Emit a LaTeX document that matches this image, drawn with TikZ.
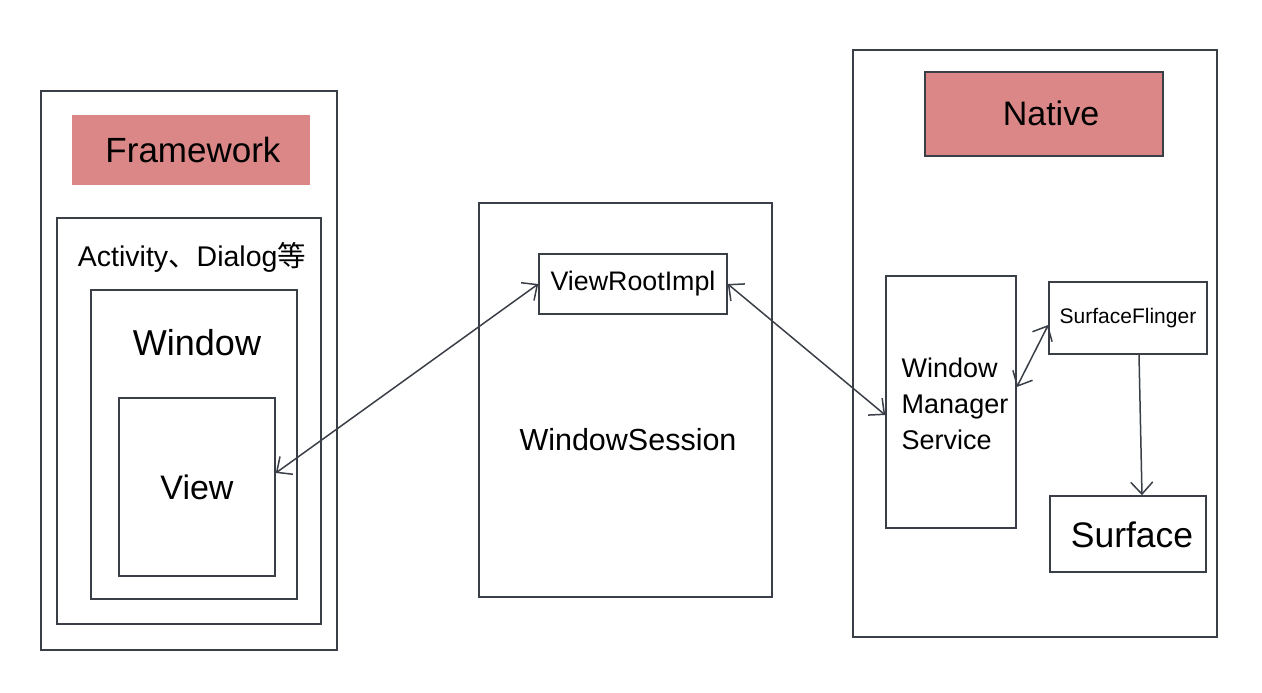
\documentclass[tikz,border=0pt]{standalone}
\usepackage{fontspec}
\setmainfont{Liberation Sans}
\newfontfamily\cjk{Noto Sans CJK SC}
\usepackage{tikz}
\usetikzlibrary{arrows.meta, positioning}
\definecolor{linecolor}{RGB}{58,63,71}
\definecolor{labelcolor}{RGB}{219,135,135}
\newcommand{\pxfont}[2]{\fontsize{#1}{#2}\selectfont}

\begin{document}
\begin{tikzpicture}[
    x=1pt, y=-1pt,
    box/.style={draw=linecolor, line width=1.6pt, inner sep=0pt},
    label/.style={fill=labelcolor, inner sep=0pt, minimum width=238pt},
    txt/.style={inner sep=0pt, text=black, align=center},
    link/.style={draw=linecolor, line width=1.5pt, {Straight Barb[length=12pt,width=22pt]}-{Straight Barb[length=12pt,width=22pt]}},
    onelink/.style={draw=linecolor, line width=1.5pt, -{Straight Barb[length=12pt,width=22pt]}}
]
    \useasboundingbox (0,0) rectangle (1262,693);

    % framework side
    \node[box, minimum width=296pt, minimum height=559pt] (framework) at (189,370.5) {};
    \node[label, minimum height=70pt] (fwlabel) at (191,150) {};
    \node[txt, font=\pxfont{35}{40}] (fwtext) at (193,150) {Framework};
    \node[box, minimum width=264pt, minimum height=406pt] (activity) at (189,421) {};
    \node[txt, font=\pxfont{28.5}{34}] (acttext) at (192,257) {Activity{\cjk 、}Dialog{\cjk 等}};
    \node[box, minimum width=206pt, minimum height=309pt] (window) at (194,444.5) {};
    \node[txt, font=\pxfont{36}{42}] (wintext) at (197,343) {Window};
    \node[box, minimum width=156pt, minimum height=178pt, font=\pxfont{34}{40}] (view) at (197,487) {View};

    % session
    \node[box, line width=1.3pt, minimum width=293pt, minimum height=394pt] (session) at (625.5,400) {};
    \node[txt, font=\pxfont{30.5}{36}] (sesstext) at (628,440) {WindowSession};
    \node[box, minimum width=188pt, minimum height=60pt, font=\pxfont{26.8}{32}] (vri) at (633,284) {ViewRootImpl};

    % native side
    \node[box, minimum width=364pt, minimum height=587pt] (native) at (1035,343.5) {};
    \node[label, draw=linecolor, line width=1.2pt, minimum height=84pt] (nalabel) at (1044,114) {};
    \node[txt, font=\pxfont{34}{40}] (natext) at (1051,113) {Native};
    \node[box, minimum width=130pt, minimum height=252pt] (wms) at (951,402) {};
    \node[txt, align=left, font=\pxfont{27}{36}] (wmstext) at (955,404) {Window\\Manager\\Service};
    \node[box, minimum width=158pt, minimum height=72pt, font=\pxfont{21}{26}] (sf) at (1128,318) {SurfaceFlinger};
    \node[box, minimum width=156pt, minimum height=76pt] (surface) at (1128,534) {};
    \node[txt, font=\pxfont{35.5}{42}] (surftext) at (1132,535) {Surface};

    % connections
    \draw[link] ([yshift=14pt]view.east) -- (vri.west);
    \draw[link] (vri.east) -- ([yshift=-13pt]wms.west);
    \draw[link] ([yshift=15pt]wms.east) -- ([yshift=-7pt]sf.west);
    \draw[onelink] ([xshift=11pt]sf.south) -- ([xshift=14pt]surface.north);
\end{tikzpicture}
\end{document}
